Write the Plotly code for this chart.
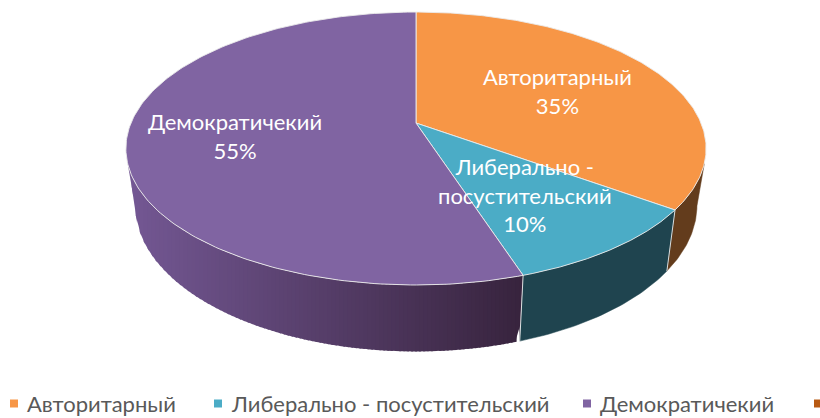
import numpy as np
import plotly.graph_objects as go

categories = ["Авторитарный", "Либерально - посустительский", "Демократичекий"]
values = [35, 10, 55]
top_colors = ["#F79646", "#4BACC6", "#8064A2"]
side_colors = ["#633C1C", "#1F444F", None]
label_lines = ["Авторитарный", "Либерально -<br>посустительский", "Демократичекий"]
label_pos = [(557, 91), (525, 195), (235, 136)]
legend_marker_x = [14, 218, 587, 818]
legend_text_x = [25, 229, 598]
legend_colors = ["#F79646", "#4BACC6", "#8064A2", "#B85A12"]
purple_side_left = np.array([116, 88, 148])
purple_side_right = np.array([56, 36, 62])

CX, CY = 416, 123
LEGEND_Y = 403.5
TOP = dict(a=285, b=131.7, k=0.187, y0=CY)
BOT = dict(a=276, b=141, k=0.187, y0=178)


def project(theta_deg, p, r=1.0):
    t = np.radians(theta_deg)
    X = r * np.sin(t)
    Y = -r * np.cos(t)
    d = 1 - p["k"] * Y
    return CX + p["a"] * X / d, p["y0"] + p["b"] * Y / d


fig = go.Figure()
cum = np.cumsum([0] + values) * 3.6
EDGE = "rgba(235,235,235,0.9)"


def poly(x, y, fill, line=None, width=1):
    fig.add_trace(go.Scatter(
        x=list(x), y=list(y), mode="lines", fill="toself", fillcolor=fill,
        line=dict(color=line or fill, width=width), hoverinfo="skip", showlegend=False))


def side(t1, t2, b1, b2, fill, line=None, width=1):
    tt = np.linspace(t1, t2, 40)
    bb = np.linspace(b2, b1, 40)
    xt, yt = project(tt, TOP)
    xb, yb = project(bb, BOT)
    poly(np.r_[xt, xb, xt[0]], np.r_[yt, yb, yt[0]], fill, line, width)


# side walls
side(107, cum[1], 101, cum[1], side_colors[0], side_colors[0], 0.5)
side(cum[1], cum[2], cum[1], cum[2], side_colors[1], side_colors[1], 0.5)

# purple wall is shaded from left to right in upright bands
tt = np.linspace(253, cum[2], 300)
bb = np.linspace(259, cum[2], 300)
xt, yt = project(tt, TOP)
xb, yb = project(bb, BOT)
low_x = np.r_[xt[0], xb, xt[-1]]
low_y = np.r_[yt[0], yb, yt[-1]]
bands = np.linspace(xt[0], xt[-1], 100)
for i in range(len(bands) - 1):
    f = i / (len(bands) - 2)
    col = "rgb(%d,%d,%d)" % tuple(purple_side_left * (1 - f) + purple_side_right * f)
    xs = np.array([bands[i], min(bands[i + 1] + 1.5, bands[-1])])
    up = np.interp(xs, xt, yt)
    lo = np.interp(xs, low_x, low_y)
    poly(np.r_[xs, xs[::-1], xs[0]], np.r_[up, lo[::-1], up[0]], col, col, 0)

# wall separators
for ang in cum[1:3]:
    xa, ya = project(ang, TOP)
    xb2, yb2 = project(ang, BOT)
    fig.add_trace(go.Scatter(x=[xa, xb2], y=[ya, yb2], mode="lines",
                             line=dict(color=EDGE, width=1), hoverinfo="skip", showlegend=False))

# top face
for i, col in enumerate(top_colors):
    t = np.linspace(cum[i], cum[i + 1], 200)
    x, y = project(t, TOP)
    poly(np.r_[CX, x, CX], np.r_[CY, y, CY], col, EDGE, 1)

# labels
ann = []
for txt, v, (lx, ly) in zip(label_lines, values, label_pos):
    ann.append(dict(x=lx, y=ly, xref="x", yref="y", showarrow=False, align="center",
                    text=f"{txt}<br>{v}%",
                    font=dict(family="Lato", size=22, color="white")))

# legend
for mx, col in zip(legend_marker_x, legend_colors):
    fig.add_trace(go.Scatter(x=[mx], y=[LEGEND_Y], mode="markers", hoverinfo="skip", showlegend=False,
                             marker=dict(symbol="square", size=8, color=col)))
for tx, name in zip(legend_text_x, categories):
    ann.append(dict(x=tx, y=LEGEND_Y, xref="x", yref="y", showarrow=False, xanchor="left",
                    text=name, font=dict(family="Lato", size=22, color="#595959")))

fig.update_layout(
    width=820, height=418, margin=dict(l=0, r=0, t=0, b=0),
    paper_bgcolor="white", plot_bgcolor="white", showlegend=False, annotations=ann,
    xaxis=dict(range=[0, 820], visible=False, fixedrange=True),
    yaxis=dict(range=[418, 0], visible=False, fixedrange=True),
)
fig.write_html("out.html", config={"displayModeBar": False},
               post_script="document.body.style.margin='0';")
